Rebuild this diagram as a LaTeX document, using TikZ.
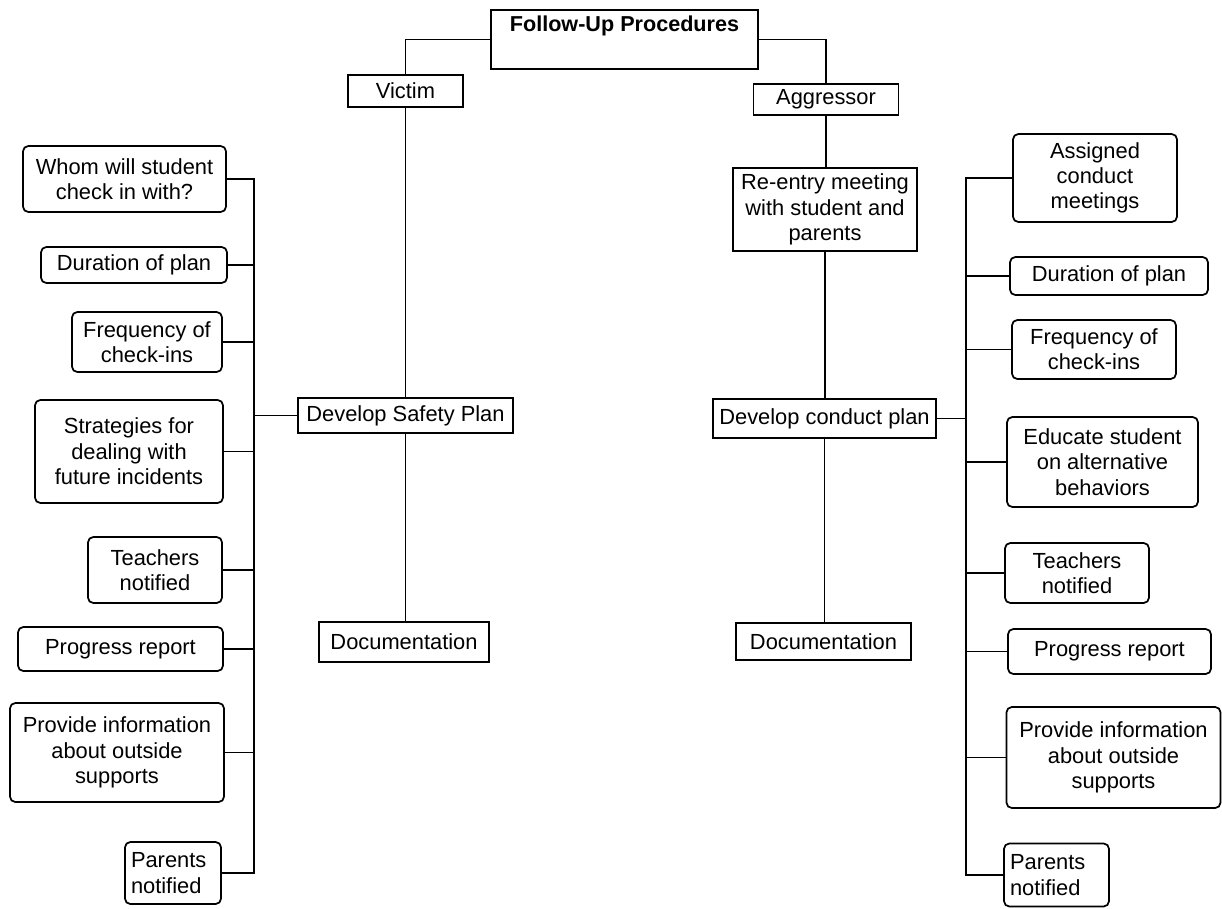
\documentclass[tikz,border=0pt]{standalone}
\usepackage{fontspec}
\setmainfont{Liberation Sans}
\begin{document}
\begin{tikzpicture}[x=0.75pt,y=-0.75pt, line width=1.3pt,
  every node/.style={font=\fontsize{16.4}{19}\selectfont, inner sep=0pt, align=center},
  box/.style={draw, rectangle},
  rbox/.style={draw, rectangle, rounded corners=4pt},
  sz/.style 2 args={minimum width=#1*0.75pt, minimum height=#2*0.75pt},
  conn/.style={line cap=rect}]
\fill[white] (0,0) rectangle (1222,908);
\useasboundingbox (0,0) rectangle (1222,908);

% top
\node[box, font=\fontsize{16.2}{19}\selectfont\bfseries, minimum width=267*0.75pt,
      text height=16.5pt, text depth=27.75pt, anchor=north] (title) at (624.5,9) {Follow-Up Procedures};
\node[box, sz={115}{32}] (vic) at (405.5,91) {Victim};
\node[box, sz={145}{31}] (agg) at (826,99.5) {Aggressor};

% victim column
\node[box, sz={215}{35}] (vs) at (405.5,415.5) {Develop Safety Plan};
\node[box, sz={170}{40}] (ld) at (404,642) {Documentation};

% aggressor column
\node[box, sz={184}{83}] (re) at (825,209.5) {Re-entry meeting\\with student and\\parents};
\node[box, sz={223}{39}] (cp) at (824.5,418.5) {Develop conduct plan};
\node[box, sz={175}{37}] (rd) at (823.5,641.5) {Documentation};

% left boxes
\node[rbox, sz={203}{66}] (l1) at (124.5,179) {Whom will student\\check in with?};
\node[rbox, sz={186}{36}] (l2) at (134,265) {Duration of plan};
\node[rbox, sz={150}{60}] (l3) at (147,342) {Frequency of\\check-ins};
\node[rbox, sz={188}{103}] (l4) at (129,451.5) {Strategies for\\dealing with\\future incidents};
\node[rbox, sz={134}{66}] (l5) at (155,570) {Teachers\\notified};
\node[rbox, sz={205}{44}] (l6) at (120.5,649) {Progress report};
\node[rbox, sz={214}{99}] (l7) at (117,752.5) {Provide information\\about outside\\supports};
\node[rbox, sz={96}{62}, align=left, text width=63pt, inner xsep=4.5pt] (l8) at (173,873) {Parents\\notified};

% right boxes
\node[rbox, sz={164}{88}] (r1) at (1095,178) {Assigned\\conduct\\meetings};
\node[rbox, sz={198}{38}] (r2) at (1109,276) {Duration of plan};
\node[rbox, sz={164}{59}] (r3) at (1094,349.5) {Frequency of\\check-ins};
\node[rbox, sz={191}{90}] (r4) at (1102.5,462) {Educate student\\on alternative\\behaviors};
\node[rbox, sz={144}{60}] (r5) at (1077,573) {Teachers\\notified};
\node[rbox, sz={203}{45}] (r6) at (1109.5,651.5) {Progress report};
\node[rbox, sz={214}{101}] (r7) at (1113.5,757.5) {Provide information\\about outside\\supports};
\node[rbox, sz={105}{63}, align=left, text width=69.75pt, inner xsep=4.5pt] (r8) at (1056.5,875) {Parents\\notified};

% connectors top
\draw (title.west) -- (title.west -| vic.north) -- (vic.north);
\draw (title.east) -- (title.east -| agg.north) -- (agg.north);
\draw (vic.south) -- (vic.south |- vs.north);
\draw (vs.south) -- (vs.south |- ld.north);
\draw (agg.south) -- (agg.south |- re.north);
\draw (re.south) -- (re.south |- cp.north);
\draw (cp.south) -- (cp.south |- rd.north);

% left trunk
\coordinate (lt) at (254,0);
\draw[conn] (l1.east -| lt) -- (l8.east -| lt);
\foreach \n in {l1,l2,l3,l4,l5,l6,l7,l8}{\draw (\n.east) -- (\n.east -| lt);}
\draw (vs.west) -- (vs.west -| lt);

% right trunk
\coordinate (rt) at (966,0);
\draw[conn] (r1.west -| rt) -- (r8.west -| rt);
\foreach \n in {r1,r2,r3,r4,r5,r6,r7,r8}{\draw (\n.west -| rt) -- (\n.west);}
\draw (cp.east) -- (cp.east -| rt);
\end{tikzpicture}
\end{document}
